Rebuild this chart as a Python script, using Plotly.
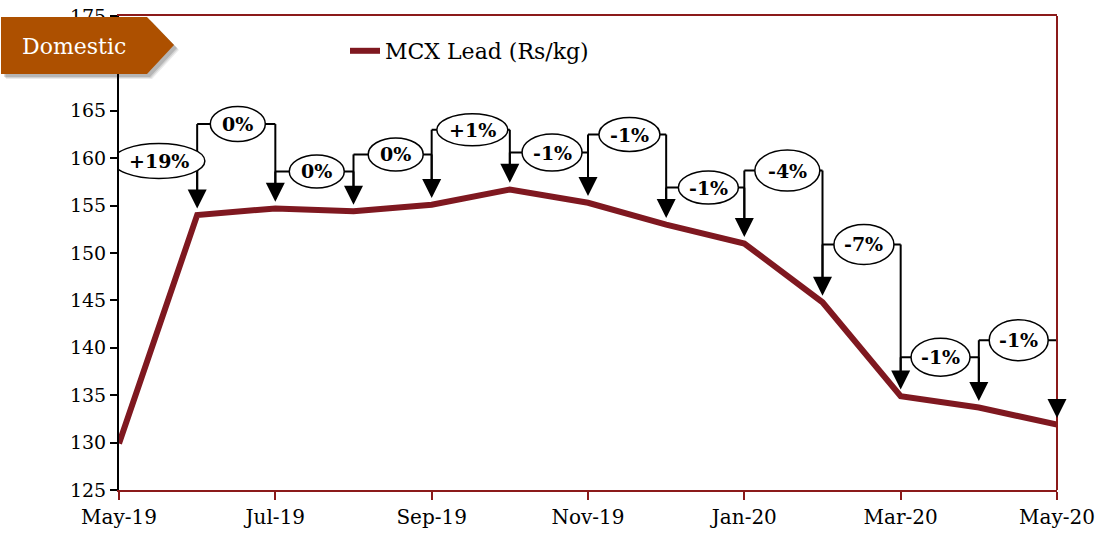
import plotly.graph_objects as go

# ---------------- data ----------------
months = ["May-19", "Jun-19", "Jul-19", "Aug-19", "Sep-19", "Oct-19", "Nov-19",
          "Dec-19", "Jan-20", "Feb-20", "Mar-20", "Apr-20", "May-20"]
lead = [129.9, 154.0, 154.7, 154.4, 155.1, 156.7, 155.3,
        153.0, 151.0, 144.8, 134.9, 133.7, 131.9]
change_labels = ["+19%", "0%", "0%", "0%", "+1%", "-1%", "-1%",
                 "-1%", "-4%", "-7%", "-1%", "-1%"]
tick_labels = ["May-19", "Jul-19", "Sep-19", "Nov-19", "Jan-20", "Mar-20", "May-20"]
y_tick_values = [125, 130, 135, 140, 145, 150, 155, 160, 165, 170, 175]
# the 170 label sits behind the "Domestic" badge in the original
y_tick_labels = ["125", "130", "135", "140", "145", "150", "155", "160", "165", "", "175"]
series_name = "MCX Lead (Rs/kg)"
badge_text = "Domestic"

# callout bubble centres (month index, Rs/kg) and bubble sizes (px)
callout_x = [0.51, 1.52, 2.53, 3.54, 4.52, 5.54, 6.53, 7.54, 8.55, 9.53, 10.51, 11.51]
callout_y = [159.7, 163.6, 158.6, 160.4, 163.0, 160.6, 162.5, 156.9, 158.7, 150.9, 139.0, 140.8]
callout_w = [92, 55, 55, 55, 71, 60, 61, 60, 65, 60, 59, 59]
callout_h = [35, 35, 33, 33, 32, 37, 34, 33, 41, 40, 38, 41]

# ---------------- layout constants ----------------
W, H = 1102, 540
ML, MR, MT, MB = 119, 45, 16, 50
PW, PH = W - ML - MR, H - MT - MB
Y0, Y1 = 125, 175
LINE_RED = "#7F1820"
AXIS_RED = "#8B1A1A"
BADGE = "#AD5000"
FONT = "DejaVu Serif"
TIP_GAP = 0.7  # arrow tip sits slightly above the line (Rs/kg)

x_idx = list(range(len(months)))


def px_x(p):
    return (p - ML) / PW


def px_y(p):
    return (H - MB - p) / PH


fig = go.Figure()
fig.add_trace(go.Scatter(
    x=x_idx, y=lead, mode="lines", name=series_name,
    line=dict(color=LINE_RED, width=6),
    hoverinfo="skip",
))

shapes = []
annotations = []

# connector lines (under bubbles)
for k in range(len(change_labels)):
    i = k + 1
    cy = callout_y[k]
    tip = lead[i] + TIP_GAP
    shapes.append(dict(type="line", xref="x", yref="y", x0=i - 1, x1=i, y0=cy, y1=cy,
                       line=dict(color="black", width=2), layer="above"))
    shapes.append(dict(type="line", xref="x", yref="y", x0=i, x1=i, y0=cy, y1=tip + 0.3,
                       line=dict(color="black", width=2), layer="above"))
    if i >= 2:
        shapes.append(dict(type="line", xref="x", yref="y", x0=i - 1, x1=i - 1,
                           y0=cy, y1=lead[i - 1] + TIP_GAP + 0.3,
                           line=dict(color="black", width=2), layer="above"))
    annotations.append(dict(x=i, y=tip, xref="x", yref="y", ax=0, ay=-20,
                            text="", showarrow=True, arrowhead=2, arrowsize=1.9,
                            arrowwidth=2, arrowcolor="black", standoff=0))

# bubbles
for k, lab in enumerate(change_labels):
    w, h = callout_w[k], callout_h[k]
    shapes.append(dict(type="circle", xref="x", yref="y",
                       xsizemode="pixel", ysizemode="pixel",
                       xanchor=callout_x[k], yanchor=callout_y[k],
                       x0=-w / 2, x1=w / 2, y0=-h / 2, y1=h / 2,
                       fillcolor="white", line=dict(color="black", width=1.5),
                       layer="above"))
    annotations.append(dict(x=callout_x[k], y=callout_y[k], xref="x", yref="y",
                            text="<b>%s</b>" % lab, showarrow=False,
                            xanchor="center", yanchor="middle",
                            font=dict(family=FONT, size=19, color="black")))

# right border
shapes.append(dict(type="line", xref="paper", yref="paper", x0=1, x1=1, y0=0, y1=1,
                   line=dict(color=AXIS_RED, width=2), layer="above"))

# "Domestic" badge with soft shadow
badge_pts = [(1, 17), (147, 17), (174, 45), (147, 74), (1, 74)]


def badge_path(dx, dy):
    pts = ["%s%.5f,%.5f" % ("M" if j == 0 else "L", px_x(x + dx), px_y(y + dy))
           for j, (x, y) in enumerate(badge_pts)]
    return " ".join(pts) + " Z"


for off, op in [(5, 0.08), (4, 0.10), (3, 0.14)]:
    shapes.append(dict(type="path", xref="paper", yref="paper", path=badge_path(off, off),
                       fillcolor="rgba(0,0,0,%s)" % op, line=dict(width=0), layer="above"))
shapes.append(dict(type="path", xref="paper", yref="paper", path=badge_path(0, 0),
                   fillcolor=BADGE, line=dict(width=0), layer="above"))
annotations.append(dict(x=px_x(74), y=px_y(46), xref="paper", yref="paper",
                        xanchor="center", yanchor="middle",
                        text=badge_text, showarrow=False,
                        font=dict(family=FONT, size=22, color="white")))

fig.update_layout(
    width=W, height=H,
    margin=dict(l=ML, r=MR, t=MT, b=MB, autoexpand=False),
    paper_bgcolor="white", plot_bgcolor="white",
    font=dict(family=FONT, color="black"),
    showlegend=True,
    legend=dict(x=px_x(345), y=px_y(51), xanchor="left", yanchor="middle",
                bgcolor="rgba(0,0,0,0)", font=dict(family=FONT, size=22, color="black"),
                itemwidth=30),
    shapes=shapes,
    annotations=annotations,
    xaxis=dict(range=[0, len(months) - 1], tickmode="array",
               tickvals=x_idx[::2], ticktext=tick_labels,
               showgrid=False, zeroline=False, automargin=False,
               showline=True, linecolor=AXIS_RED, linewidth=2, mirror=True,
               ticks="outside", ticklen=8, tickwidth=2, tickcolor=AXIS_RED,
               tickfont=dict(family=FONT, size=20, color="black")),
    yaxis=dict(range=[Y0, Y1], tickmode="array",
               tickvals=y_tick_values, ticktext=y_tick_labels,
               showgrid=False, zeroline=False, automargin=False,
               showline=True, linecolor="black", linewidth=2,
               ticks="outside", ticklen=7, tickwidth=2, tickcolor="black",
               tickfont=dict(family=FONT, size=19, color="black")),
)

fig.write_html("out.html", config={"displayModeBar": False},
               post_script="document.body.style.margin='0';")
